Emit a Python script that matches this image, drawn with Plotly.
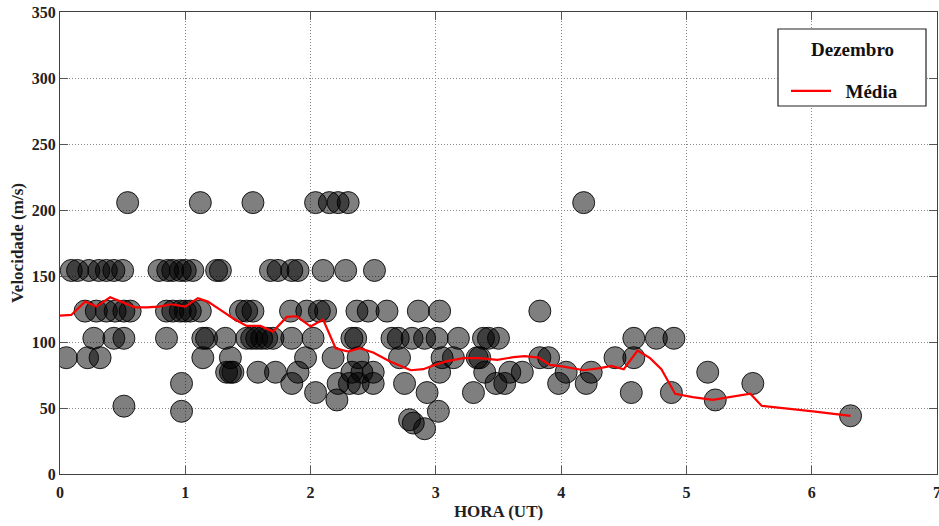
import plotly.graph_objects as go

# Scatter points (hour UT, velocity m/s)
hora = [
    0.54, 1.12, 1.54, 2.04, 2.15, 2.22, 2.30, 4.18,
    0.09, 0.14, 0.23, 0.31, 0.37, 0.43, 0.50, 0.79, 0.86, 0.90, 0.96, 1.00, 1.06, 1.25, 1.28,
    1.68, 1.74, 1.85, 1.90, 2.10, 2.28, 2.51,
    0.20, 0.29, 0.37, 0.44, 0.51, 0.56, 0.85, 0.90, 0.96, 1.00, 1.04, 1.12, 1.44, 1.49, 1.54,
    1.84, 1.97, 2.07, 2.12, 2.37, 2.46, 2.61, 2.86, 3.03, 3.83,
    0.27, 0.43, 0.51, 0.85, 1.14, 1.17, 1.32, 1.49, 1.53, 1.57, 1.61, 1.65, 1.70, 1.85, 2.02,
    2.33, 2.36, 2.65, 2.70, 2.81, 2.91, 3.01, 3.18, 3.38, 3.42, 3.50, 4.58, 4.76, 4.90,
    0.05, 0.22, 0.32, 1.14, 1.36, 1.96, 2.18, 2.38, 2.71, 3.05, 3.14, 3.33, 3.35, 3.83, 3.90,
    4.43, 4.58,
    1.33, 1.36, 1.38, 1.58, 1.72, 1.90, 2.33, 2.41, 2.50, 3.03, 3.39, 3.59, 3.69, 4.04, 4.24,
    5.17,
    0.97, 1.85, 2.22, 2.31, 2.38, 2.50, 2.75, 3.48, 3.55, 3.98, 4.20, 5.53,
    2.04, 2.93, 3.30, 4.56, 4.88,
    2.21, 5.23,
    0.51,
    0.97, 3.02,
    6.31,
    2.79, 2.82, 2.91,
]
velocidade = [
    205.6, 205.6, 205.6, 205.6, 205.6, 205.6, 205.6, 205.6,
    154.2, 154.2, 154.2, 154.2, 154.2, 154.2, 154.2, 154.2, 154.2, 154.2, 154.2, 154.2, 154.2, 154.2, 154.2,
    154.2, 154.2, 154.2, 154.2, 154.2, 154.2, 154.2,
    123.4, 123.4, 123.4, 123.4, 123.4, 123.4, 123.4, 123.4, 123.4, 123.4, 123.4, 123.4, 123.4, 123.4, 123.4,
    123.4, 123.4, 123.4, 123.4, 123.4, 123.4, 123.4, 123.4, 123.4, 123.4,
    102.8, 102.8, 102.8, 102.8, 102.8, 102.8, 102.8, 102.8, 102.8, 102.8, 102.8, 102.8, 102.8, 102.8, 102.8,
    102.8, 102.8, 102.8, 102.8, 102.8, 102.8, 102.8, 102.8, 102.8, 102.8, 102.8, 102.8, 102.8, 102.8,
    88.1, 88.1, 88.1, 88.1, 88.1, 88.1, 88.1, 88.1, 88.1, 88.1, 88.1, 88.1, 88.1, 88.1, 88.1,
    88.1, 88.1,
    77.1, 77.1, 77.1, 77.1, 77.1, 77.1, 77.1, 77.1, 77.1, 77.1, 77.1, 77.1, 77.1, 77.1, 77.1,
    77.1,
    68.6, 68.6, 68.6, 68.6, 68.6, 68.6, 68.6, 68.6, 68.6, 68.6, 68.6, 68.6,
    61.7, 61.7, 61.7, 61.7, 61.7,
    56.1, 56.1,
    51.4,
    47.5, 47.5,
    44.1,
    41.1, 38.6, 34.3,
]

# Mean curve ("Média")
media_x = [0.0, 0.09, 0.20, 0.29, 0.40, 0.49, 0.60, 0.69, 0.79, 0.89, 1.00, 1.10, 1.18, 1.28,
           1.38, 1.49, 1.60, 1.70, 1.81, 1.89, 2.00, 2.10, 2.20, 2.30, 2.39, 2.50, 2.63, 2.80,
           2.90, 3.00, 3.09, 3.22, 3.35, 3.49, 3.62, 3.71, 3.82, 3.91, 4.02, 4.18, 4.31, 4.40,
           4.50, 4.61, 4.71, 4.80, 4.91, 5.05, 5.21, 5.51, 5.60, 6.01, 6.31]
media_y = [120.0, 120.5, 130.6, 126.8, 133.9, 130.6, 126.3, 126.3, 126.8, 128.6, 126.8, 133.2,
           130.6, 124.3, 118.0, 112.2, 112.2, 107.9, 119.0, 119.5, 111.7, 117.0, 95.3, 92.8,
           95.3, 92.0, 85.5, 78.6, 79.4, 83.0, 85.5, 87.8, 87.8, 86.5, 88.5, 89.3, 88.2, 82.7,
           81.4, 78.6, 80.2, 81.9, 79.4, 93.5, 87.8, 79.4, 60.8, 58.3, 56.2, 60.8, 51.7, 47.4,
           44.1]

x_ticks = [0, 1, 2, 3, 4, 5, 6, 7]
y_ticks = [0, 50, 100, 150, 200, 250, 300, 350]
legend_title = "Dezembro"

FONT = "Liberation Serif"

# Full-window figure; the page's default body margin is removed after plotting.
W, H = 939, 526
ML, MR, MT, MB = 60, 2, 12, H - 474

fig = go.Figure()
fig.add_trace(go.Scatter(
    x=hora, y=velocidade, mode="markers", showlegend=False,
    marker=dict(size=22, color="rgba(0,0,0,0.5)",
                line=dict(color="rgba(0,0,0,0.85)", width=1)),
    hoverinfo="x+y",
))
fig.add_trace(go.Scatter(
    x=media_x, y=media_y, mode="lines", name="<b>&nbsp;&nbsp;Média</b>",
    line=dict(color="#ff0000", width=2.2),
))

axis_common = dict(
    showline=True, linecolor="#404040", linewidth=1.2, mirror="allticks",
    ticks="inside", ticklen=8, tickwidth=1, tickcolor="#555555",
    showgrid=True, gridcolor="#888888", griddash="1px,2px", gridwidth=1,
    zeroline=False, automargin=False, ticklabeloverflow="allow",
    tickfont=dict(family=FONT, size=16, color="#222222"),
)

fig.update_xaxes(
    range=[0, 7], tickvals=x_ticks, ticktext=[f"<b>{v}</b>" for v in x_ticks],
    ticklabelstandoff=4,
    title=dict(text="<b>HORA (UT)</b>", font=dict(family=FONT, size=17, color="#222222"),
               standoff=4),
    **axis_common,
)
fig.update_yaxes(
    range=[0, 350], tickvals=y_ticks, ticktext=[f"<b>{v}</b>" for v in y_ticks],
    title=dict(text="<b>Velocidade (m/s)</b>", font=dict(family=FONT, size=17, color="#222222"),
               standoff=3),
    **axis_common,
)

# legend frame, positioned in page pixels of the plotting area
def px_x(p):
    return (p - 60) / 877.0

def px_y(p):
    return (474.0 - p) / 462.0

fig.add_shape(type="rect", xref="paper", yref="paper",
              x0=px_x(778), x1=px_x(926), y0=px_y(106), y1=px_y(29),
              line=dict(color="#222222", width=1.2), fillcolor="white", layer="above")
fig.add_annotation(xref="paper", yref="paper", x=px_x(852), y=px_y(50),
                   text=f"<b>{legend_title}</b>", showarrow=False,
                   font=dict(family=FONT, size=19, color="#111111"),
                   xanchor="center", yanchor="middle")

fig.update_layout(
    width=W, height=H,
    margin=dict(l=ML, r=MR, t=MT, b=MB),
    paper_bgcolor="white", plot_bgcolor="white",
    font=dict(family=FONT, color="#222222"),
    legend=dict(
        x=px_x(786), y=px_y(72), xanchor="left", yanchor="top",
        bgcolor="rgba(0,0,0,0)", borderwidth=0,
        font=dict(family=FONT, size=19, color="#111111"),
        itemwidth=40,
    ),
)

fig.write_html("out.html",
               config={"displayModeBar": False},
               post_script="document.body.style.margin='0';document.body.style.overflow='hidden';")
